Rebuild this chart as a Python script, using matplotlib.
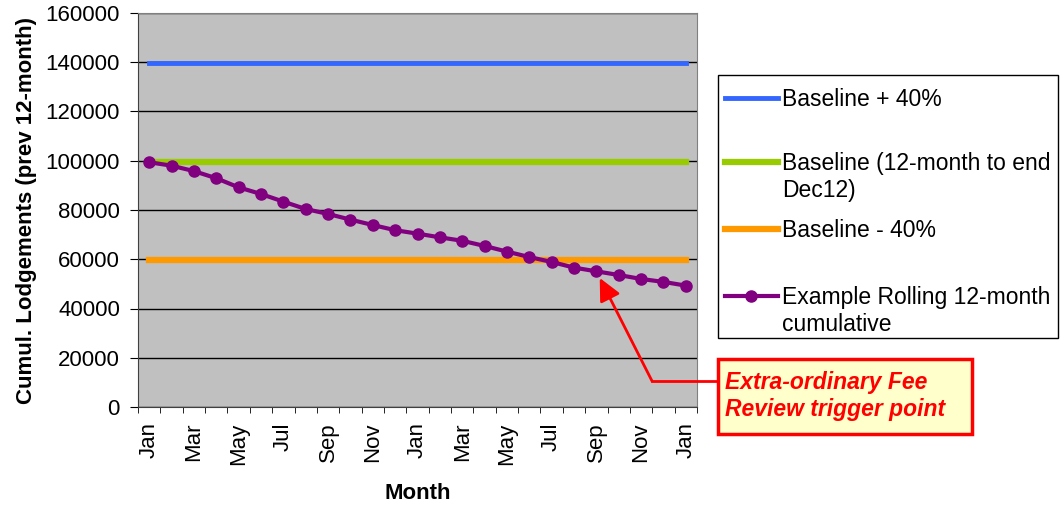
import matplotlib.pyplot as plt
from matplotlib.lines import Line2D
from matplotlib.patches import Rectangle
import numpy as np

plt.rcParams['font.family'] = ['Liberation Sans', 'DejaVu Sans']

# Data
months = ['Jan', 'Feb', 'Mar', 'Apr', 'May', 'Jun', 'Jul', 'Aug', 'Sep', 'Oct', 'Nov', 'Dec',
          'Jan', 'Feb', 'Mar', 'Apr', 'May', 'Jun', 'Jul', 'Aug', 'Sep', 'Oct', 'Nov', 'Dec', 'Jan']
rolling = [99400, 98000, 95800, 92900, 89200, 86500, 83400, 80400, 78400, 76100, 73900, 71800,
           70400, 68900, 67500, 65400, 63100, 60900, 58900, 56600, 55100, 53600, 52000, 50800, 49300]
baseline = 99300
baseline_hi = 139500
baseline_lo = 59600

series_names = ['Baseline + 40%', 'Baseline (12-month to end\nDec12)', 'Baseline - 40%',
                'Example Rolling 12-month\ncumulative']
series_colors = ['#3366FF', '#99CC00', '#FF9900', '#800080']

W, H = 1061, 509
x = np.arange(len(months))

fig = plt.figure(figsize=(W / 100, H / 100), dpi=100)
ax = fig.add_axes([138 / W, 1 - 407 / H, (697 - 138) / W, (407 - 13) / H])
ax.set_facecolor('#C0C0C0')

# Lines
ax.plot(x, [baseline_hi] * len(x), color=series_colors[0], lw=3.5)
ax.plot(x, [baseline] * len(x), color=series_colors[1], lw=4.5)
ax.plot(x, [baseline_lo] * len(x), color=series_colors[2], lw=4.5)
ax.plot(x, rolling, color=series_colors[3], lw=3, marker='o', markersize=8)

# Axes
ax.set_xlim(-0.5, len(x) - 0.5)
ax.set_ylim(0, 160000)
ax.set_yticks(range(0, 160001, 20000))
ax.yaxis.grid(True, color='black', lw=1)
ax.set_axisbelow(True)
ax.set_xticks(x[::2])
ax.set_xticklabels(months[::2], rotation=90)
ax.tick_params(axis='x', length=0, labelsize=16, pad=11)
ax.set_xticks(np.arange(-0.5, len(x), 1), minor=True)
ax.tick_params(axis='x', which='minor', length=4.5, direction='out')
ax.tick_params(axis='y', labelsize=16, length=6, pad=7)
for s in ['top', 'right']:
    ax.spines[s].set_color('#808080')
ax.spines['left'].set_color('#404040')
ax.spines['bottom'].set_color('#404040')

ax.set_xlabel('Month', fontsize=16, fontweight='bold', labelpad=13)
ax.set_ylabel('Cumul. Lodgements (prev 12-month)', fontsize=16, fontweight='bold', labelpad=6)

# Legend (drawn by hand so handles sit on the first line of each label, Excel-style)
def fx(px):
    return px / W

def fy(py):
    return 1 - py / H

fig.add_artist(Rectangle((fx(718), fy(338)), fx(1058) - fx(718), fy(75) - fy(338),
                         transform=fig.transFigure, facecolor='white', edgecolor='black', lw=1))
handle_y = [98, 162, 229, 296]
for name, col, hy in zip(series_names, series_colors, handle_y):
    lw = 3.5 if col == '#3366FF' else (3 if col == '#800080' else 4.5)
    fig.add_artist(Line2D([fx(725), fx(778)], [fy(hy), fy(hy)], color=col, lw=lw,
                          transform=fig.transFigure))
    if col == '#800080':
        fig.add_artist(Line2D([fx(751)], [fy(hy)], color=col, marker='o', markersize=8,
                              transform=fig.transFigure))
    fig.text(fx(782), fy(hy - 10), name, fontsize=16.5, ha='left', va='top', linespacing=1.22)

# Annotation
ax.annotate('', xy=(20.15, 52400), xytext=(fx(652), fy(381)), textcoords='figure fraction',
            arrowprops=dict(arrowstyle='-|>,head_length=0.68,head_width=0.33', color='red',
                            lw=2, mutation_scale=20, shrinkA=0, shrinkB=0))
fig.add_artist(Line2D([fx(652), fx(718)], [fy(381), fy(381)], color='red', lw=2,
                      transform=fig.transFigure))
fig.add_artist(Rectangle((fx(718), fy(434)), fx(972) - fx(718), fy(359) - fy(434),
                         transform=fig.transFigure, facecolor='#FFFFCC', edgecolor='red', lw=2.5))
fig.text(fx(725), fy(396), 'Extra-ordinary Fee\nReview trigger point',
         color='red', fontsize=16.5, fontweight='bold', style='italic',
         ha='left', va='center', linespacing=1.25)

plt.savefig('out.png')
